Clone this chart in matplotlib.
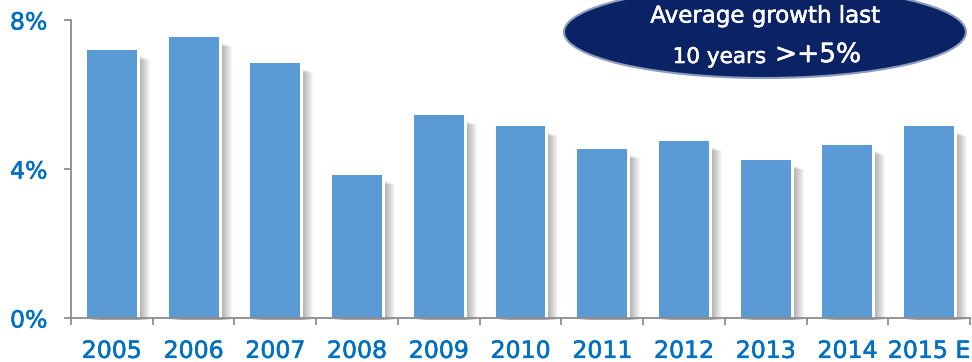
import matplotlib
matplotlib.use("Agg")
import matplotlib.pyplot as plt
from matplotlib.patches import Ellipse
import matplotlib.patheffects as pe
import numpy as np

years = ["2005", "2006", "2007", "2008", "2009", "2010", "2011", "2012", "2013", "2014", "2015 E"]
growth = [7.2, 7.55, 6.85, 3.85, 5.45, 5.15, 4.55, 4.75, 4.25, 4.65, 5.15]
yticks = [0, 4, 8]
ytick_labels = ["0%", "4%", "8%"]
banner_line1 = "Average growth last"
banner_line2a = "10 years"
banner_line2b = ">+5%"

W, H = 972, 362
fig = plt.figure(figsize=(W / 100, H / 100), dpi=100)
plt.rcParams['font.family'] = ['DejaVu Sans']

ax = fig.add_axes([71 / W, 1 - 318 / H, (970 - 71) / W, (318 - 20) / H])
ax.set_xlim(-0.5, len(years) - 0.5)
ax.set_ylim(0, 8)

x = np.arange(len(years))
px_x = (len(years)) / 899.0  # data units per pixel in x
px_y = 8 / 298.0              # data units per pixel in y
bw = 0.61
blue = "#5B9BD5"
label_blue = "#0070C0"

# soft shadows
for i, v in enumerate(growth):
    for k in range(13):
        off = (1 + k) * px_x
        ax.bar(x[i] + off, v - (3 + 0.4 * k) * px_y, width=bw,
               bottom=-2 * px_y, color="black", alpha=0.03, zorder=1,
               linewidth=0, clip_on=False)
# white borders
ax.bar(x, [v + 3 * px_y for v in growth], width=bw + 6 * px_x, color="white",
       zorder=2, linewidth=0)
# bars
ax.bar(x, growth, width=bw, color=blue, zorder=3, linewidth=0)

for s in ["top", "right"]:
    ax.spines[s].set_visible(False)
for s in ["left", "bottom"]:
    ax.spines[s].set_color("#8c8c8c")
    ax.spines[s].set_linewidth(1.3)
    ax.spines[s].set_zorder(4)

thick = [pe.withStroke(linewidth=0.4, foreground=label_blue)]
ax.set_yticks(yticks)
ax.set_yticklabels(ytick_labels)
ax.tick_params(axis="y", length=5, width=1.3, color="#8c8c8c", pad=12,
               labelsize=17, labelcolor=label_blue)
ax.set_xticks(x)
ax.set_xticklabels(years)
ax.tick_params(axis="x", which="major", length=0, pad=15, labelsize=17,
               labelcolor=label_blue)
ax.set_xticks(np.arange(len(years) + 1) - 0.5, minor=True)
ax.tick_params(axis="x", which="minor", length=5, width=1.3, color="#8c8c8c")
for t in ax.get_xticklabels() + ax.get_yticklabels():
    t.set_path_effects(thick)

# banner overlay
ov = fig.add_axes([0, 0, 1, 1])
ov.set_xlim(0, W)
ov.set_ylim(H, 0)
ov.axis("off")
ov.patch.set_alpha(0)
ov.add_patch(Ellipse((765, 32), 402, 92, facecolor="#0B2364",
                     edgecolor="#8A9CC0", linewidth=1.5))
wthick = [pe.withStroke(linewidth=0.4, foreground="white")]
ov.text(765, 16, banner_line1, color="white", fontsize=16.5, ha="center",
        va="center", path_effects=wthick)
ov.text(766, 57, banner_line2a, color="white", fontsize=15.5, ha="right",
        va="center", path_effects=wthick)
ov.text(775, 55, banner_line2b, color="white", fontsize=19, ha="left",
        va="center", path_effects=wthick)

fig.savefig("out.png", dpi=100)
